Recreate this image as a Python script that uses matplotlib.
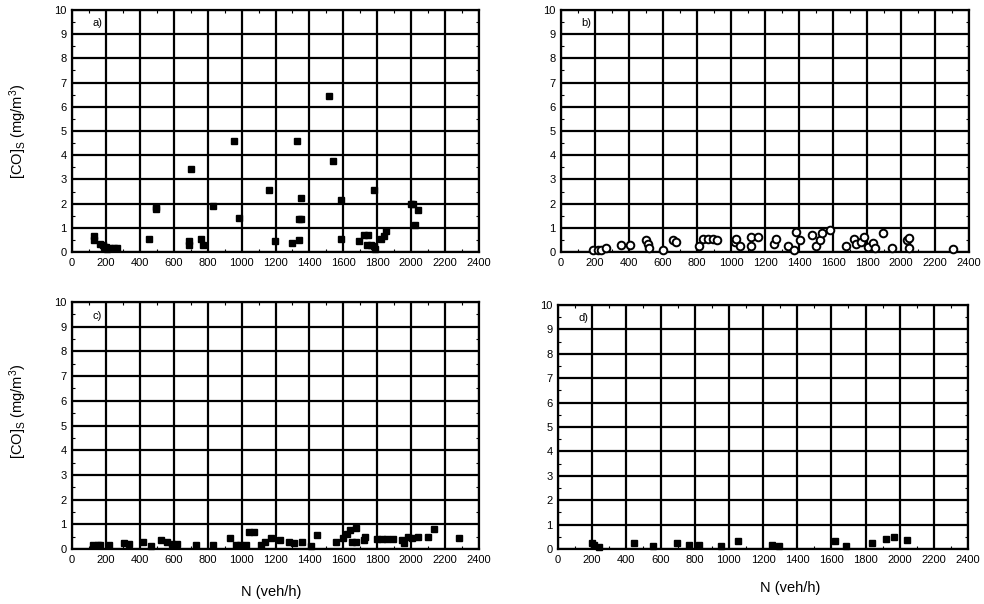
import matplotlib
matplotlib.use("Agg")
import matplotlib.pyplot as plt
import numpy as np

plt.rcParams['font.family'] = ['Liberation Sans', 'DejaVu Sans']
plt.rcParams['mathtext.default'] = 'regular'

# Panel a) filled squares
a_x = [130, 130, 167, 187, 207, 227, 246, 266, 180, 200, 453, 498, 498, 690, 690, 700, 759, 774,
       830, 956, 985, 1159, 1196, 1300, 1324, 1336, 1340, 1352, 1350, 1513, 1537, 1586, 1586,
       1690, 1724, 1748, 1741, 1764, 1783, 1783, 1789, 1823, 1842, 1852, 2000, 2012, 2043, 2020]
a_y = [0.65, 0.5, 0.35, 0.2, 0.14, 0.18, 0.18, 0.18, 0.28, 0.22, 0.52, 1.85, 1.78, 0.45, 0.28,
       3.45, 0.52, 0.28, 1.9, 4.57, 1.42, 2.55, 0.45, 0.37, 4.57, 0.48, 1.35, 1.35, 2.23, 6.43,
       3.77, 2.14, 0.52, 0.45, 0.69, 0.69, 0.3, 0.3, 0.25, 2.55, 0.14, 0.52, 0.66, 0.88,
       2.0, 1.98, 1.75, 1.1]

# Panel b) open circles
b_x = [190, 219, 238, 264, 351, 404, 501, 511, 515, 599, 658, 677, 810, 833, 862, 892, 917,
       1024, 1032, 1054, 1120, 1120, 1159, 1253, 1266, 1334, 1373, 1383, 1405, 1477, 1500,
       1522, 1536, 1580, 1678, 1721, 1737, 1766, 1785, 1805, 1838, 1848, 1897, 1945, 2035,
       2045, 2045, 2308]
b_y = [0.1, 0.1, 0.1, 0.16, 0.3, 0.27, 0.5, 0.33, 0.16, 0.07, 0.5, 0.41, 0.23, 0.54, 0.55,
       0.55, 0.48, 0.4, 0.55, 0.23, 0.23, 0.6, 0.62, 0.33, 0.52, 0.23, 0.1, 0.82, 0.5, 0.72,
       0.23, 0.5, 0.8, 0.9, 0.23, 0.52, 0.32, 0.41, 0.6, 0.2, 0.37, 0.16, 0.8, 0.16, 0.5,
       0.56, 0.16, 0.12]

# Panel c) small squares
c_x = [126, 151, 168, 217, 306, 339, 416, 465, 527, 562, 590, 619, 732, 832, 929, 968, 993,
       1045, 1074, 1026, 1113, 1136, 1171, 1224, 1278, 1307, 1355, 1409, 1442, 1558, 1597,
       1622, 1640, 1675, 1650, 1675, 1729, 1723, 1800, 1830, 1860, 1890, 1946, 1956, 1981,
       2004, 2043, 2101, 2136, 2285]
c_y = [0.16, 0.16, 0.16, 0.16, 0.24, 0.19, 0.27, 0.13, 0.35, 0.27, 0.19, 0.19, 0.16, 0.16,
       0.43, 0.16, 0.16, 0.67, 0.67, 0.16, 0.16, 0.28, 0.43, 0.38, 0.27, 0.24, 0.28, 0.13,
       0.58, 0.27, 0.43, 0.6, 0.78, 0.84, 0.28, 0.28, 0.5, 0.38, 0.4, 0.4, 0.4, 0.4, 0.38,
       0.26, 0.5, 0.43, 0.5, 0.5, 0.8, 0.43]

# Panel d) small squares
d_x = [201, 211, 240, 442, 559, 696, 768, 827, 956, 1052, 1251, 1296, 1624, 1683, 1838, 1918,
       1965, 2045]
d_y = [0.26, 0.15, 0.08, 0.25, 0.11, 0.25, 0.18, 0.18, 0.11, 0.33, 0.18, 0.11, 0.33, 0.11,
       0.25, 0.42, 0.49, 0.36]

x_ticks = list(range(0, 2401, 200))
y_ticks = list(range(0, 11))
panel_labels = ['a)', 'b)', 'c)', 'd)']

W, H = 984, 604
fig = plt.figure(figsize=(W / 100, H / 100), dpi=100)

def rect(l, r, t, b):
    return [l / W, 1 - b / H, (r - l) / W, (b - t) / H]

axes = [
    fig.add_axes(rect(72, 479, 10, 252)),
    fig.add_axes(rect(561, 969, 10, 252)),
    fig.add_axes(rect(72, 479, 302, 549)),
    fig.add_axes(rect(558, 968, 305, 549)),
]

for i, ax in enumerate(axes):
    ax.set_xlim(0, 2400)
    ax.set_ylim(0, 10)
    ax.set_xticks(x_ticks)
    ax.set_yticks(y_ticks)
    ax.set_xticks(np.arange(100, 2400, 200), minor=True)
    ax.set_yticks(np.arange(0.5, 10, 1), minor=True)
    ax.tick_params(which='major', length=0, labelsize=8, pad=4)
    ax.tick_params(which='minor', direction='in', length=2, width=0.8,
                   top=True, right=True)
    ax.grid(True, which='major', color='black', linewidth=1.6)
    for s in ax.spines.values():
        s.set_linewidth(1.6)
    ax.text(150, 9.45, panel_labels[i], fontsize=8, ha='center', va='center')
    ax.set_axisbelow(False)

axes[0].plot(a_x, a_y, linestyle='none', marker='s', markersize=5,
             color='black', clip_on=False, zorder=3)
axes[1].plot(b_x, b_y, linestyle='none', marker='o', markersize=5.5,
             markerfacecolor='white', markeredgecolor='black', markeredgewidth=1.4,
             clip_on=False, zorder=3)
for ax, xs, ys in ((axes[2], c_x, c_y), (axes[3], d_x, d_y)):
    ax.plot(xs, ys, linestyle='none', marker='s', markersize=4,
            color='black', clip_on=False, zorder=3)

ylabel = r'[CO]$_{S}$ (mg/m$^{3}$)'
fig.text(18 / W, 1 - 131 / H, ylabel, rotation=90, ha='center', va='center', fontsize=10.5)
fig.text(18 / W, 1 - 411 / H, ylabel, rotation=90, ha='center', va='center', fontsize=10.5)
fig.text(271 / W, 1 - 592 / H, 'N (veh/h)', ha='center', va='center', fontsize=10.5)
fig.text(790 / W, 1 - 588 / H, 'N (veh/h)', ha='center', va='center', fontsize=10.5)

fig.savefig('out.png', dpi=100)
